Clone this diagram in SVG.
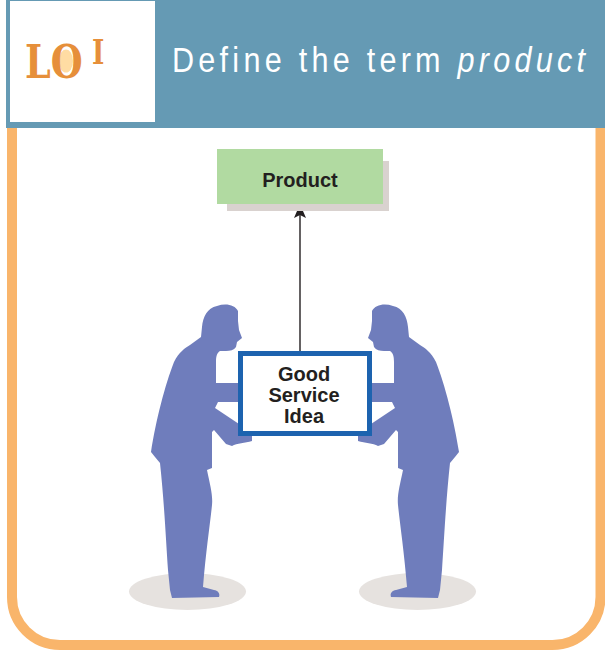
<svg xmlns="http://www.w3.org/2000/svg" width="605" height="652" viewBox="0 0 605 652">
  <defs>
    <style>
      .fig { fill: #6F7DBC; }
      .shadow { fill: #E6E2DF; }
      .lbl { font-family: "Liberation Sans", Arial, sans-serif; font-weight: bold; fill: #231F20; text-anchor: middle; }
      .conn { stroke: #231F20; stroke-width: 1.4; fill: none; }
      .lo { font-family: "DejaVu Serif", "Liberation Serif", serif; font-weight: bold; fill: #E68F3A; }
    </style>
    <marker id="arrowhead" viewBox="0 0 14 12" refX="13" refY="6" markerWidth="14" markerHeight="12" markerUnits="userSpaceOnUse" orient="auto">
      <path d="M0 0 L14 6 L0 12 L3 6 Z" fill="#231F20"/>
    </marker>
    <!-- one bent-over figure; the second is its mirror image -->
    <path id="man" class="fig" d="M217 306 C226 303 235 305 238 311 L238 321 L239 330 L242 338 L237 342 L236 347 C234 350 230 351 226 351 L220 351 C217 353 216 356 216 362 L216 383 L250 383 L250 402 L218 402 L215 408 L245 428 L252 436 L252 441 C245 443 237 443 232 446 L226 444 L214 430 L212 432 L212 468 L207 470 C210 485 213 495 212 505 C210 525 206 550 203 587 L214 590 C219 591 220 594 219 597 L172 598 L170 590 L168 570 C166 540 164 500 160 463 L155 457 L151 452 C156 420 165 385 174 362 C179 352 185 348 190 345 L201 337 L202 327 C203 317 207 308 217 306 Z"/>
  </defs>

  <!-- page frame -->
  <rect x="0" y="0" width="605" height="652" fill="#FFFFFF"/>
  <path d="M12 128 L12 597 A48 48 0 0 0 60 645 L552.5 645 A48 48 0 0 0 600.5 597 L600.5 128" fill="none" stroke="#F9B56B" stroke-width="10"/>

  <!-- header band -->
  <g id="header">
    <rect x="6" y="0" width="599" height="128" fill="#659AB4"/>
    <rect x="10" y="1" width="145" height="121" fill="#FFFFFF"/>
    <ellipse cx="66" cy="61" rx="7" ry="11.5" fill="#FFDCA3"/>
    <text class="lo" transform="translate(25 78) scale(0.78 1)" x="0" y="0" font-size="47">LO</text>
    <text class="lo" transform="translate(92 64) scale(0.8 1)" x="0" y="0" font-size="33">I</text>
    <text transform="translate(172 72) scale(0.85 1)" x="0" y="0" font-family="Liberation Sans, Arial, sans-serif" font-size="36" fill="#FFFFFF" textLength="486" lengthAdjust="spacing">Define the term <tspan font-style="italic">product</tspan></text>
  </g>

  <!-- ground shadows -->
  <ellipse class="shadow" cx="187.5" cy="591.5" rx="58.5" ry="18.5"/>
  <ellipse class="shadow" cx="417.5" cy="591.5" rx="58.5" ry="18.5"/>

  <!-- figures -->
  <g id="person-left">
    <use href="#man"/>
  </g>
  <g id="person-right">
    <use href="#man" transform="translate(610 0) scale(-1 1)"/>
  </g>

  <!-- connectors -->
  <g id="connectors">
    <line class="conn" x1="300" y1="351" x2="300" y2="205" marker-end="url(#arrowhead)"/>
  </g>

  <!-- Product node -->
  <g id="node-product">
    <rect x="227" y="161" width="162" height="50" fill="#D9D2CF"/>
    <rect x="217" y="149" width="166" height="55" fill="#B1DAA1"/>
    <text class="lbl" x="300" y="187" font-size="20">Product</text>
  </g>

  <!-- Good / Service / Idea node -->
  <g id="node-offering">
    <rect x="240.5" y="353.5" width="129" height="80" fill="#FFFFFF" stroke="#1D63AF" stroke-width="5"/>
    <text class="lbl" x="304" y="381" font-size="20">Good</text>
    <text class="lbl" x="304" y="402" font-size="20">Service</text>
    <text class="lbl" x="304" y="423" font-size="20">Idea</text>
  </g>
</svg>
